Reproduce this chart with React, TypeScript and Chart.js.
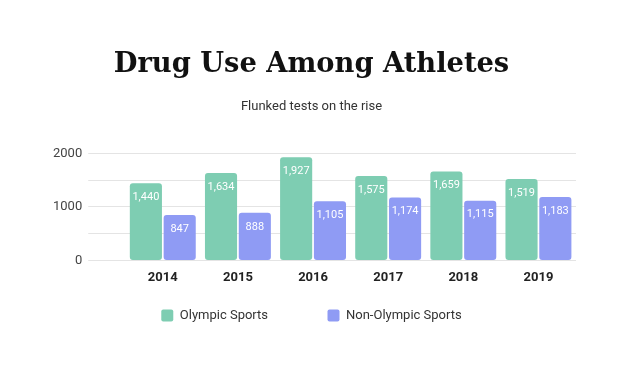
import React, { useEffect, useRef } from "react";
import { Chart, registerables } from "chart.js";

Chart.register(...registerables);

const years = ["2014", "2015", "2016", "2017", "2018", "2019"];
const olympic = [1440, 1634, 1927, 1575, 1659, 1519];
const nonOlympic = [847, 888, 1105, 1174, 1115, 1183];
const seriesNames = ["Olympic Sports", "Non-Olympic Sports"];
const titleText = "Drug Use Among Athletes";
const subtitleText = "Flunked tests on the rise";

const barLabels = {
  id: "barLabels",
  afterDatasetsDraw(chart: any) {
    const ctx = chart.ctx;
    ctx.save();
    ctx.font = "11px Roboto";
    ctx.fillStyle = "#ffffff";
    ctx.textAlign = "center";
    ctx.textBaseline = "middle";
    chart.data.datasets.forEach((ds: any, i: number) => {
      const meta = chart.getDatasetMeta(i);
      meta.data.forEach((bar: any, j: number) => {
        const v = ds.data[j] as number;
        ctx.fillText(v.toLocaleString("en-US"), bar.x, bar.y + 14);
      });
    });
    ctx.restore();
  },
};

export default function App() {
  const ref = useRef<HTMLCanvasElement>(null);
  useEffect(() => {
    document.body.style.margin = "0";
    const chart = new Chart(ref.current!, {
      type: "bar",
      data: {
        labels: years,
        datasets: [
          {
            label: seriesNames[0],
            data: olympic,
            backgroundColor: "#7ecdb2",
            borderRadius: 3,
            borderSkipped: false,
            categoryPercentage: 0.9,
            barPercentage: 0.95,
          },
          {
            label: seriesNames[1],
            data: nonOlympic,
            backgroundColor: "#8f9bf4",
            borderRadius: 3,
            borderSkipped: false,
            categoryPercentage: 0.9,
            barPercentage: 0.95,
          },
        ],
      },
      options: {
        animation: false,
        responsive: false,
        maintainAspectRatio: false,
        layout: { padding: { left: 47, right: 64, top: 0, bottom: 48 } },
        plugins: {
          title: {
            display: true,
            text: titleText,
            color: "#111111",
            font: { family: "DejaVu Serif", size: 27.3, weight: "bold" },
            padding: { top: 49, bottom: 17 },
          },
          subtitle: {
            display: true,
            text: subtitleText,
            color: "#333333",
            font: { family: "Roboto", size: 13 },
            padding: { top: 0, bottom: 39 },
          },
          legend: {
            position: "bottom",
            labels: {
              boxWidth: 12,
              boxHeight: 12,
              useBorderRadius: true,
              borderRadius: 2,
              padding: 10,
              color: "#333333",
              font: { family: "Roboto", size: 13 },
              generateLabels: (c: any) => {
                const items = Chart.defaults.plugins.legend.labels.generateLabels(c);
                items.forEach((it: any, i: number) => {
                  if (i < items.length - 1) it.text = it.text + "\u2003\u2003\u2003   ";
                });
                return items;
              },
            },
          },
          tooltip: { enabled: false },
        },
        scales: {
          x: {
            grid: { display: false },
            border: { display: false },
            afterFit: (scale: any) => {
              scale.height += 11;
            },
            ticks: {
              color: "#222222",
              font: { family: "Roboto", size: 13, weight: "bold" },
              padding: 2,
            },
          },
          y: {
            min: 0,
            max: 2000,
            border: { display: false },
            grid: { color: "#e4e4e4", tickLength: 37 },
            ticks: {
              stepSize: 500,
              color: "#444444",
              padding: 6,
              font: { family: "Roboto", size: 13 },
              callback: (v: any) => (Number(v) % 1000 === 0 ? String(v) : ""),
            },
          },
        },
      },
      plugins: [barLabels],
    });
    return () => chart.destroy();
  }, []);
  return <canvas ref={ref} width={640} height={380} style={{ display: "block" }} />;
}
